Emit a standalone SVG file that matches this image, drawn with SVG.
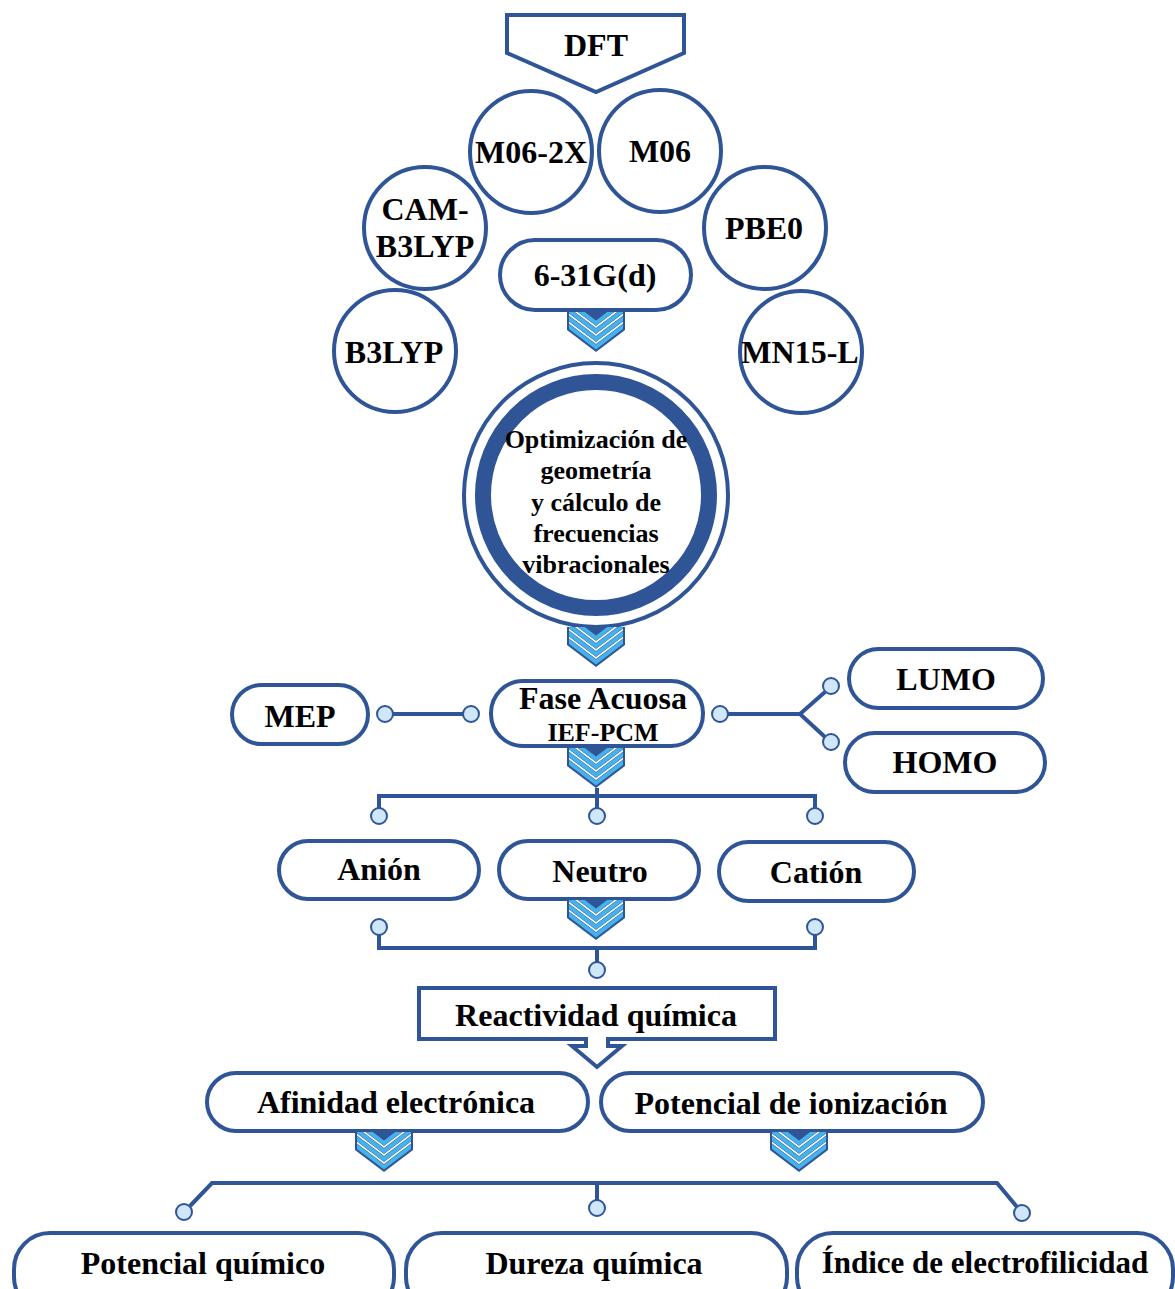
<svg xmlns="http://www.w3.org/2000/svg" width="1175" height="1289" viewBox="0 0 1175 1289">
  <style>
    .ln { fill: #fff; stroke: #2f5597; stroke-width: 4; }
    .t { font-family: "Liberation Serif", "Times New Roman", serif; font-weight: bold; font-size: 32px; fill: #000; text-anchor: middle; }
    .ts { font-size: 26px; }
    .cn { fill: none; stroke: #2f5597; stroke-width: 4; stroke-linecap: butt; }
    .dot { fill: #cfe6fb; stroke: #2f5597; stroke-width: 2; }
  </style>
  <defs>
    <clipPath id="chevClip">
      <path d="M-27,0 H27 V18.5 L0,38 L-27,18.5 Z"/>
    </clipPath>
    <!-- striped down-chevron, local origin at top centre -->
    <g id="chev">
      <path d="M-29,0 H29 V18 L0,40 L-29,18 Z" fill="#2f5597"/>
      <g clip-path="url(#chevClip)" fill="none">
        <polyline points="-29,13 0,35 29,13" stroke="#45b2ec" stroke-width="4"/>
        <polyline points="-29,9 0,31 29,9" stroke="#ffffff" stroke-width="1.6"/>
        <polyline points="-29,5 0,27 29,5" stroke="#45b2ec" stroke-width="4"/>
        <polyline points="-29,1 0,23 29,1" stroke="#ffffff" stroke-width="1.6"/>
        <polyline points="-29,-3 0,19 29,-3" stroke="#45b2ec" stroke-width="4"/>
        <polyline points="-29,-7 0,15 29,-7" stroke="#ffffff" stroke-width="1.6"/>
        <polyline points="-29,-11 0,11 29,-11" stroke="#45b2ec" stroke-width="4"/>
      </g>
    </g>
  </defs>

  <rect width="1175" height="1289" fill="#fff"/>

  <!-- functionals -->
  <g id="n-m062x"><circle class="ln" cx="531" cy="152" r="61"/><text class="t" x="531" y="163">M06-2X</text></g>
  <g id="n-m06"><circle class="ln" cx="660" cy="151" r="61"/><text class="t" x="660" y="162">M06</text></g>
  <g id="n-cam"><circle class="ln" cx="425" cy="228" r="61"/><text class="t" x="425" y="220">CAM-</text><text class="t" x="425" y="257">B3LYP</text></g>
  <g id="n-pbe0"><circle class="ln" cx="765" cy="228" r="61"/><text class="t" x="764" y="239">PBE0</text></g>
  <g id="n-b3lyp"><circle class="ln" cx="395" cy="351" r="61"/><text class="t" x="394" y="363">B3LYP</text></g>
  <g id="n-mn15l"><circle class="ln" cx="801" cy="352" r="61"/><text class="t" x="800" y="363">MN15-L</text></g>

  <!-- DFT banner -->
  <g id="n-dft">
    <path class="ln" d="M507,15 H684 V53 L596,92 L507,53 Z"/>
    <text class="t" x="596" y="56">DFT</text>
  </g>

  <!-- basis set -->
  <g id="n-basis">
    <rect class="ln" x="500" y="240" width="191" height="70" rx="35"/>
    <text class="t" x="595" y="286">6-31G(d)</text>
  </g>

  <!-- optimisation step -->
  <g id="n-opt">
    <circle class="ln" cx="596" cy="495" r="132"/>
    <circle cx="596" cy="495" r="113" fill="#fff" stroke="#2f5597" stroke-width="16"/>
    <text class="t ts" x="596" y="448">Optimización de</text>
    <text class="t ts" x="596" y="479">geometría</text>
    <text class="t ts" x="596" y="511">y cálculo de</text>
    <text class="t ts" x="596" y="542">frecuencias</text>
    <text class="t ts" x="596" y="573">vibracionales</text>
  </g>

  <!-- solvent phase and orbitals -->
  <g id="n-fase">
    <rect class="ln" x="491" y="681" width="212" height="65" rx="32"/>
    <text class="t" x="603" y="709">Fase Acuosa</text>
    <text class="t ts" x="603" y="741">IEF-PCM</text>
  </g>
  <g id="n-mep"><rect class="ln" x="232" y="685" width="136" height="59" rx="29.5"/><text class="t" x="300" y="727">MEP</text></g>
  <g id="n-lumo"><rect class="ln" x="849" y="649" width="194" height="59" rx="29.5"/><text class="t" x="946" y="690">LUMO</text></g>
  <g id="n-homo"><rect class="ln" x="845" y="733" width="200" height="59" rx="29.5"/><text class="t" x="945" y="773">HOMO</text></g>

  <!-- charge states -->
  <g id="n-anion"><rect class="ln" x="279" y="841" width="200" height="58" rx="29"/><text class="t" x="379" y="880">Anión</text></g>
  <g id="n-neutro"><rect class="ln" x="499" y="841" width="200" height="58" rx="29"/><text class="t" x="600" y="882">Neutro</text></g>
  <g id="n-cation"><rect class="ln" x="719" y="842" width="195" height="59" rx="29.5"/><text class="t" x="816" y="883">Catión</text></g>

  <!-- reactivity callout -->
  <g id="n-react">
    <path class="ln" d="M419,988 H775 V1039 H608 V1046 H622 L597,1067 L572,1046 H586 V1039 H419 Z"/>
    <text class="t" x="596" y="1026">Reactividad química</text>
  </g>

  <g id="n-afinidad"><rect class="ln" x="207" y="1073" width="381" height="58" rx="29"/><text class="t" x="396" y="1113">Afinidad electrónica</text></g>
  <g id="n-ioniz"><rect class="ln" x="601" y="1073" width="382" height="58" rx="29"/><text class="t" x="791" y="1114">Potencial de ionización</text></g>

  <!-- descriptors -->
  <g id="n-mu"><rect class="ln" x="14" y="1233" width="380" height="80" rx="36"/><text class="t" x="203" y="1274">Potencial químico</text></g>
  <g id="n-eta"><rect class="ln" x="406" y="1233" width="381" height="80" rx="36"/><text class="t" x="594" y="1274">Dureza química</text></g>
  <g id="n-omega"><rect class="ln" x="797" y="1233" width="376" height="80" rx="36"/><text class="t" x="985" y="1273" style="font-size:31px">Índice de electrofilicidad</text></g>

  <!-- connectors -->
  <g id="connectors">
    <use href="#chev" x="596" y="312"/>
    <use href="#chev" x="596" y="627"/>
    <use href="#chev" x="596" y="748"/>
    <use href="#chev" x="596" y="900"/>
    <use href="#chev" x="384" y="1132"/>
    <use href="#chev" x="799" y="1132"/>

    <path class="cn" d="M393,714 H463"/>
    <path class="cn" d="M728,714 H800 L825,692 M800,714 L825,737"/>
    <path class="cn" d="M379,808 V796 H815 V808 M597,788 V808"/>
    <path class="cn" d="M379,935 V948 H815 V935 M597,948 V962"/>
    <path class="cn" d="M190,1206 L212,1183 H997 L1017,1207 M597,1183 V1200"/>

    <circle class="dot" cx="385" cy="714" r="8"/>
    <circle class="dot" cx="471" cy="714" r="8"/>
    <circle class="dot" cx="720" cy="714" r="8"/>
    <circle class="dot" cx="831" cy="686" r="8"/>
    <circle class="dot" cx="831" cy="742" r="8"/>
    <circle class="dot" cx="379" cy="816" r="8"/>
    <circle class="dot" cx="597" cy="816" r="8"/>
    <circle class="dot" cx="815" cy="816" r="8"/>
    <circle class="dot" cx="379" cy="927" r="8"/>
    <circle class="dot" cx="815" cy="927" r="8"/>
    <circle class="dot" cx="597" cy="970" r="8"/>
    <circle class="dot" cx="184" cy="1212" r="8"/>
    <circle class="dot" cx="597" cy="1208" r="8"/>
    <circle class="dot" cx="1022" cy="1213" r="8"/>
  </g>
</svg>
